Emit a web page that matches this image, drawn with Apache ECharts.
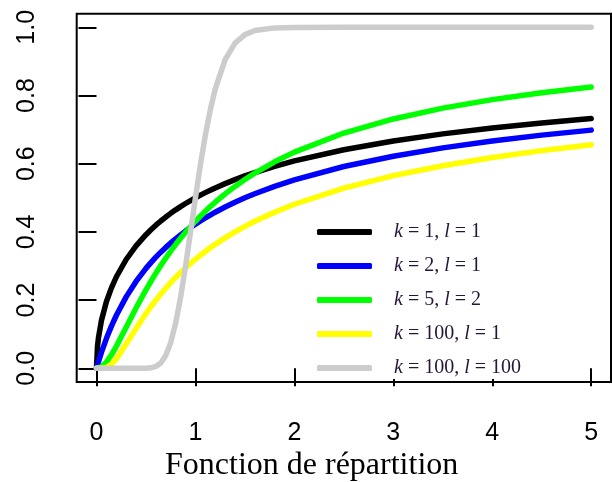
<!DOCTYPE html>
<html>
<head>
<meta charset="utf-8">
<script src="https://cdn.jsdelivr.net/npm/echarts@6/dist/echarts.min.js"></script>
<style>html,body{margin:0;padding:0;background:#fff}#c{width:612px;height:482px}</style>
</head>
<body>
<div id="c"></div>
<script>
const xs = [0, 0.01, 0.02, 0.05, 0.1, 0.15, 0.2, 0.3, 0.4, 0.5, 0.55, 0.6, 0.65, 0.7, 0.75, 0.8, 0.85, 0.9, 0.95, 1.0, 1.05, 1.1, 1.15, 1.2, 1.3, 1.4, 1.5, 1.6, 1.8, 2.0, 2.5, 3.0, 3.5, 4.0, 4.5, 5.0];
const k1l1 = [0, 0.0635, 0.0894, 0.1401, 0.1950, 0.2352, 0.2677, 0.3190, 0.3590, 0.3918, 0.4062, 0.4196, 0.4320, 0.4436, 0.4544, 0.4646, 0.4742, 0.4832, 0.4918, 0.5, 0.5078, 0.5152, 0.5222, 0.5290, 0.5416, 0.5533, 0.5641, 0.5742, 0.5923, 0.6082, 0.6410, 0.6667, 0.6875, 0.7048, 0.7196, 0.7323];
const k2l1 = [0, 0.0099, 0.0194, 0.0465, 0.0871, 0.1229, 0.1548, 0.2094, 0.2546, 0.2929, 0.3099, 0.3258, 0.3406, 0.3545, 0.3675, 0.3798, 0.3914, 0.4024, 0.4128, 0.4226, 0.4320, 0.4410, 0.4495, 0.4577, 0.4730, 0.4870, 0.5, 0.5120, 0.5337, 0.5528, 0.5918, 0.6220, 0.6464, 0.6667, 0.6838, 0.6985];
const k5l2 = [0, 0.0001, 0.0005, 0.0041, 0.0179, 0.0388, 0.0642, 0.1202, 0.1768, 0.2301, 0.2550, 0.2789, 0.3015, 0.3231, 0.3435, 0.3629, 0.3813, 0.3988, 0.4154, 0.4312, 0.4462, 0.4605, 0.4742, 0.4871, 0.5114, 0.5335, 0.5538, 0.5724, 0.6055, 0.6339, 0.6900, 0.7313, 0.7630, 0.7880, 0.8083, 0.8250];
const k100l1 = [0, 0, 0, 0, 0.0020, 0.0112, 0.0275, 0.0709, 0.1170, 0.1604, 0.1805, 0.1997, 0.2178, 0.2348, 0.2510, 0.2663, 0.2807, 0.2944, 0.3074, 0.3197, 0.3315, 0.3426, 0.3534, 0.3635, 0.3825, 0.4000, 0.4161, 0.4311, 0.4578, 0.4811, 0.5285, 0.5650, 0.5942, 0.6182, 0.6383, 0.6558];
const k100l100 = [0, 0, 0, 0, 0, 0, 0, 0, 0, 0.0003, 0.0014, 0.0053, 0.0156, 0.0373, 0.0752, 0.1323, 0.2082, 0.2991, 0.3988, 0.5, 0.5964, 0.6832, 0.7577, 0.8190, 0.9052, 0.9537, 0.9787, 0.9906, 0.9984, 0.9997, 1, 1, 1, 1, 1, 1];
const seriesNames = ['k = 1, l = 1', 'k = 2, l = 1', 'k = 5, l = 2', 'k = 100, l = 1', 'k = 100, l = 100'];
const seriesColors = ['#000000', '#0000ff', '#00ff00', '#ffff00', '#cccccc'];
const xTicks = [0, 1, 2, 3, 4, 5];
const yTicks = [0, 0.2, 0.4, 0.6, 0.8, 1.0];
const titleText = 'Fonction de répartition';

const allY = [k1l1, k2l1, k5l2, k100l1, k100l100];
const chart = echarts.init(document.getElementById('c'), null, {renderer: 'canvas'});
const txtColor = '#24163a';
chart.setOption({
  animation: false,
  backgroundColor: '#ffffff',
  title: {
    text: titleText, left: 160, top: 445,
    textStyle: {fontFamily: 'Liberation Serif', fontSize: 32, fontWeight: 'normal', color: '#000'}
  },
  grid: {left: 76.7, right: 1, top: 13.7, bottom: 100.1, show: true, borderColor: '#000', borderWidth: 2, backgroundColor: 'transparent'},
  xAxis: {
    type: 'value', min: -0.2, max: 5.2,
    axisLine: {show: false},
    splitLine: {show: false},
    axisTick: {show: true, inside: false, length: 18, customValues: xTicks, lineStyle: {color: '#000', width: 2}},
    axisLabel: {customValues: xTicks, margin: 39, fontFamily: 'Liberation Sans', fontSize: 25, color: '#000', formatter: v => String(v)}
  },
  yAxis: {
    type: 'value', min: -0.04, max: 1.04,
    axisLine: {show: false},
    splitLine: {show: false},
    axisTick: {show: true, inside: false, length: 18, customValues: yTicks, lineStyle: {color: '#000', width: 2}},
    axisLabel: {customValues: yTicks, rotate: 90, margin: 37, fontFamily: 'Liberation Sans', fontSize: 25, color: '#000', formatter: v => v.toFixed(1)}
  },
  legend: {
    orient: 'vertical', left: 312, top: 217, z: 10,
    padding: [5, 5, 1, 5],
    itemWidth: 55, itemHeight: 6, itemGap: 14,
    icon: 'roundRect',
    backgroundColor: '#ffffff',
    data: seriesNames,
    formatter: name => name.replace('k', '{i|k}').replace('l', '{i|l}'),
    textStyle: {
      fontFamily: 'Liberation Serif', fontSize: 20, lineHeight: 20, color: txtColor, padding: [0, 0, 0, 17],
      rich: {i: {fontFamily: 'Liberation Serif', fontStyle: 'italic', fontSize: 20, lineHeight: 20, color: txtColor}}
    }
  },
  series: allY.map((ys, i) => ({
    name: seriesNames[i],
    type: 'line',
    data: xs.map((x, j) => [x, ys[j]]),
    showSymbol: false,
    symbol: 'none',
    smooth: false,
    color: seriesColors[i],
    lineStyle: {width: 5.5, color: seriesColors[i], cap: 'round', join: 'round'},
    itemStyle: {color: seriesColors[i]}
  }))
});
</script>
</body>
</html>
